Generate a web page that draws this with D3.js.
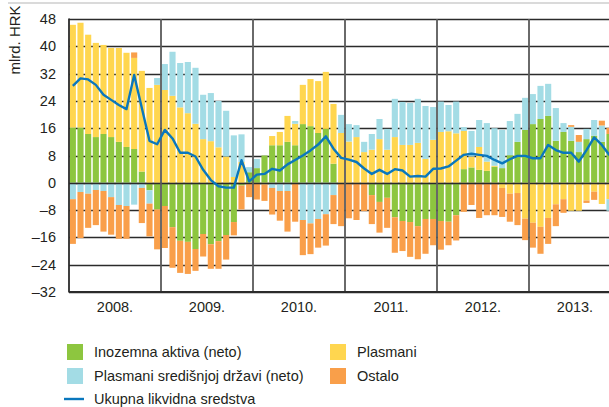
<!DOCTYPE html>
<html>
<head>
<meta charset="utf-8">
<script src="https://cdn.jsdelivr.net/npm/d3@7"></script>
<style>
  body { margin: 0; background: #fff; }
  svg text { font-family: "Liberation Sans Narrow", "Arial Narrow", "Liberation Sans", sans-serif; fill: #231f20; }
</style>
</head>
<body>
<svg id="chart"></svg>
<script>
// Year labels (categories are months Jan 2008 .. Dec 2013)
const years = ["2008.", "2009.", "2010.", "2011.", "2012.", "2013."];
const yTicks = [-32, -24, -16, -8, 0, 8, 16, 24, 32, 40, 48];

// Series values, mlrd. HRK, monthly from Jan 2008
const inozemnaAktiva = [
  16.2, 16.2, 14.3, 13.4, 14.3, 13.4, 12.0, 10.5, 9.9, 3.3, -2.2, -7.8,
  -6.8, -13.0, -17.0, -17.3, -19.4, -15.0, -18.0, -17.1, -15.3, -11.5, -0.8, 3.1,
  4.3, 8.0, 11.0, 11.0, 12.0, 11.0, 17.2, 16.6, 14.6, 15.8, 5.6, 0,
  0, 0, 0, -3.6, -5.6, -4.4, -10.1, -11.2, -11.5, -12.7, -10.6, -10.6,
  -11.2, -11.4, -9.5, 4.0, 4.5, 3.8, 3.5, 4.7, 4.3, 8.1, 12.0, 15.5,
  17.2, 18.7, 19.6, 12.3, 14.9, 12.3, 9.0, 12.8, 13.8, 12.0, 14.3
];
const plasmani = [
  30.1, 30.7, 29.1, 27.6, 26.1, 26.1, 27.5, 27.6, 26.7, 29.5, 27.8, 28.7,
  27.2, 25.5, 22.1, 20.4, 17.3, 12.8, 12.2, 10.4, 7.7, 1.7, 6.1, 0,
  0, -0.5, 2.7, 3.9, 7.6, 6.3, 11.5, 13.8, 15.2, 16.7, 17.5, 14.6,
  12.1, 13.4, 9.0, 9.7, 12.8, 9.7, 13.4, 11.1, 11.1, 11.7, 7.0, 12.6,
  14.9, 15.1, 14.5, 11.2, 3.2, 6.7, 2.7, 0.3, -1.5, -3.2, -3.0, -10.5,
  -11.7, -12.9, -10.3, -6.3, -4.8, -8.2, -8.2, -5.2, -2.6, -6.2, -4.8
];
const plasmaniDrzavi = [
  -4.8, -2.7, -3.2, -2.1, -2.4, -4.2, -6.5, -6.8, -6.4, -1.5, -3.9, 2.0,
  7.6, 12.9, 13.0, 15.0, 16.4, 13.0, 14.1, 13.6, 13.4, 12.2, 8.1, 1.5,
  2.7, 0, -1.5, -2.4, -2.4, 0.8, -10.9, -11.9, -10.6, -9.2, -3.6, 5.3,
  5.1, 3.5, 3.0, 4.6, 5.9, 6.1, 11.2, 12.6, 12.3, 12.9, 15.5, 9.6,
  8.9, 7.7, 9.3, 1.1, 7.5, 7.9, 11.3, 11.0, 11.2, 10.0, 8.2, 9.4,
  8.8, 9.7, 9.4, 9.6, 2.6, 4.1, 3.0, 3.0, 4.6, 4.8, -3.4
];
const ostalo = [
  -13.1, -13.5, -10.0, -10.3, -11.9, -11.0, -9.9, -9.6, 1.6, -10.3, -9.6, -11.7,
  -12.3, -11.9, -9.4, -9.4, -6.4, -6.6, -7.2, -8.1, -7.2, -3.9, -7.0, -4.2,
  -4.9, -4.8, -7.8, -8.7, -11.9, -11.4, -10.3, -9.0, -8.4, -9.2, -8.5, -12.7,
  -10.4, -10.9, -8.3, -8.5, -9.0, -8.8, -10.4, -8.8, -10.2, -9.7, -10.2, -7.7,
  -8.4, -6.9, -7.4, -8.5, -6.5, -10.3, -9.5, -9.5, -8.5, -8.2, -9.4, -6.3,
  -7.3, -7.9, -7.6, -6.4, -4.0, 0.5, 2.0, -0.7, -2.4, 1.4, 1.8
];
const ukupno = [
  28.4, 30.6, 30.3, 28.7, 25.8, 24.3, 22.8, 21.6, 31.6, 21.9, 12.3, 11.3,
  15.5, 13.0, 8.8, 8.8, 7.7, 3.8, 0.8, -1.0, -1.4, -1.4, 6.6, 0.4,
  2.4, 2.6, 4.1, 3.6, 5.4, 6.7, 8.0, 9.5, 11.2, 13.6, 10.0, 7.3,
  6.8, 6.1, 4.2, 2.6, 3.8, 2.6, 4.0, 3.6, 1.8, 2.0, 1.8, 4.1,
  4.2, 4.8, 6.5, 8.2, 8.5, 8.2, 7.9, 6.7, 5.7, 6.9, 7.9, 7.9,
  7.2, 7.2, 11.1, 9.6, 8.8, 8.8, 6.2, 9.6, 13.3, 11.1, 8.1
];

const seriesNames = ["Inozemna aktiva (neto)", "Plasmani", "Plasmani središnjoj državi (neto)", "Ostalo"];
const colors = ["#8dc63f", "#ffd64f", "#a3dce5", "#f99f4a"];
const lineName = "Ukupna likvidna sredstva";
const lineColor = "#0a77bd";

// all month slots on the axis (6 years x 12)
const months = [];
years.forEach((y, yi) => { for (let m = 0; m < 12; m++) months.push(yi * 12 + m); });

const rows = ukupno.map((v, i) => ({
  i: i,
  k0: inozemnaAktiva[i], k1: plasmani[i], k2: plasmaniDrzavi[i], k3: ostalo[i],
  total: v
}));

const W = 609, H = 407;
const margin = { left: 69, top: 19 };
const plotW = 552, plotH = 273;

const svg = d3.select("#chart").attr("width", W).attr("height", H);

const x = d3.scaleBand().domain(months).range([margin.left, margin.left + plotW])
  .paddingInner(0.2).paddingOuter(0.1);
const y = d3.scaleLinear().domain([-32, 48]).range([margin.top + plotH, margin.top]);

// top thin rule
svg.append("line").attr("x1", 8).attr("x2", W).attr("y1", 3).attr("y2", 3)
  .attr("stroke", "#b5b5b5").attr("stroke-width", 1);

// horizontal grid
svg.append("g").selectAll("line").data(yTicks).join("line")
  .attr("x1", margin.left).attr("x2", margin.left + plotW)
  .attr("y1", d => Math.round(y(d)) + 0.5).attr("y2", d => Math.round(y(d)) + 0.5)
  .attr("stroke", "#2b2b2b").attr("stroke-width", 1.3);

// bars
const stack = d3.stack().keys(["k0", "k1", "k2", "k3"]).offset(d3.stackOffsetDiverging);
const stacked = stack(rows);
svg.append("g").selectAll("g").data(stacked).join("g")
  .attr("fill", (d, i) => colors[i])
  .selectAll("rect").data(d => d).join("rect")
  .attr("x", d => x(d.data.i))
  .attr("width", x.bandwidth())
  .attr("y", d => y(Math.max(d[0], d[1])))
  .attr("height", d => Math.abs(y(d[0]) - y(d[1])));

// zero line redrawn over bars
svg.append("line").attr("x1", margin.left).attr("x2", margin.left + plotW)
  .attr("y1", Math.round(y(0)) + 0.5).attr("y2", Math.round(y(0)) + 0.5)
  .attr("stroke", "#2b2b2b").attr("stroke-width", 1.3);

// vertical year separators
const yearStarts = years.map((d, i) => x(i * 12) - x.step() * x.paddingOuter());
svg.append("g").selectAll("line").data(yearStarts.slice(1)).join("line")
  .attr("x1", d => d).attr("x2", d => d)
  .attr("y1", margin.top).attr("y2", margin.top + plotH)
  .attr("stroke", "#5a5a5a").attr("stroke-width", 1.8);

// left and bottom axis lines
svg.append("line").attr("x1", margin.left).attr("x2", margin.left)
  .attr("y1", margin.top - 0.5).attr("y2", margin.top + plotH + 0.5)
  .attr("stroke", "#2b2b2b").attr("stroke-width", 1.8);
svg.append("line").attr("x1", margin.left).attr("x2", margin.left + plotW)
  .attr("y1", margin.top + plotH).attr("y2", margin.top + plotH)
  .attr("stroke", "#2b2b2b").attr("stroke-width", 1.8);

// line series
const line = d3.line()
  .x(d => x(d.i) + x.bandwidth() / 2)
  .y(d => y(d.total));
svg.append("path").datum(rows)
  .attr("fill", "none").attr("stroke", lineColor).attr("stroke-width", 2.4)
  .attr("stroke-linejoin", "round")
  .attr("d", line);

// y tick labels
svg.append("g").selectAll("text").data(yTicks).join("text")
  .attr("x", 56).attr("y", d => y(d) + 5)
  .attr("text-anchor", "end").attr("font-size", 14.5)
  .text(d => d < 0 ? "–" + Math.abs(d) : d);

// y axis title
svg.append("text")
  .attr("transform", "translate(20,40) rotate(-90)")
  .attr("text-anchor", "middle").attr("font-size", 15)
  .text("mlrd. HRK");

// year labels
svg.append("g").selectAll("text").data(years).join("text")
  .attr("x", (d, i) => yearStarts[i] + 46)
  .attr("y", 312)
  .attr("text-anchor", "middle").attr("font-size", 14.5)
  .text(d => d);

// legend
const legendItems = [
  { name: seriesNames[0], color: colors[0], col: 0, row: 0 },
  { name: seriesNames[2], color: colors[2], col: 0, row: 1 },
  { name: seriesNames[1], color: colors[1], col: 1, row: 0 },
  { name: seriesNames[3], color: colors[3], col: 1, row: 1 }
];
const colX = [67, 330], rowY = [352, 376, 399];
const lg = svg.append("g");
legendItems.forEach(it => {
  lg.append("rect").attr("x", colX[it.col]).attr("y", rowY[it.row] - 8)
    .attr("width", 16).attr("height", 16).attr("fill", it.color);
  lg.append("text").attr("x", colX[it.col] + 27).attr("y", rowY[it.row] + 5)
    .attr("font-size", 14.5).text(it.name);
});
lg.append("line").attr("x1", 64).attr("x2", 84).attr("y1", rowY[2]).attr("y2", rowY[2])
  .attr("stroke", lineColor).attr("stroke-width", 2.4);
lg.append("text").attr("x", 94).attr("y", rowY[2] + 5).attr("font-size", 14.5).text(lineName);
</script>
</body>
</html>
